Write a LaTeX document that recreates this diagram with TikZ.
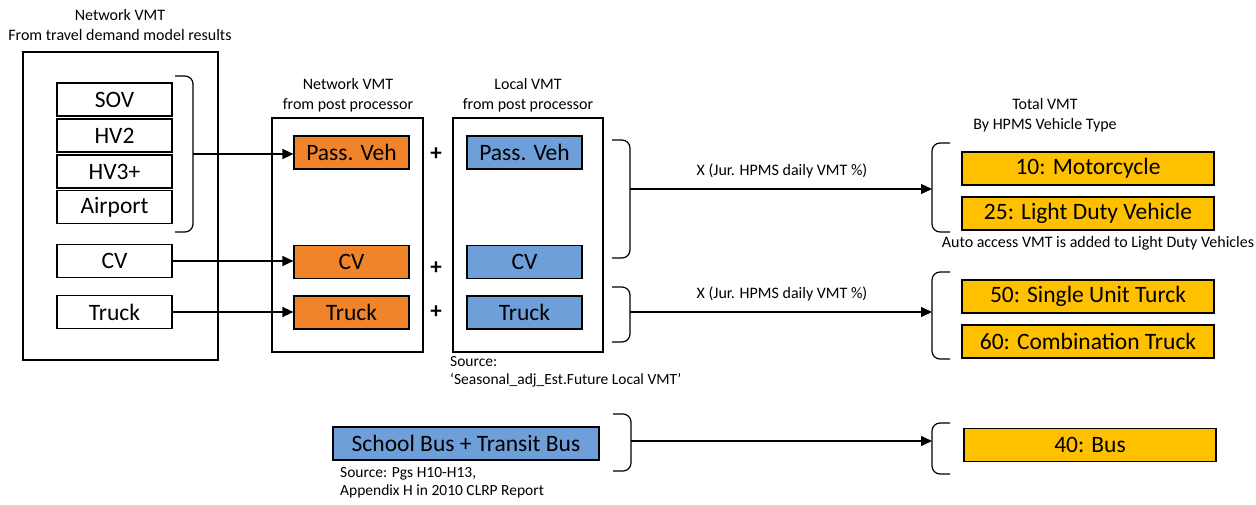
\documentclass[tikz,border=0pt]{standalone}
\usepackage{fontspec}
\setmainfont{Carlito}
\usetikzlibrary{arrows.meta}
\definecolor{orng}{HTML}{F0842A}
\definecolor{blu}{HTML}{6F9FD9}
\definecolor{gld}{HTML}{FFC000}
\begin{document}
\begin{tikzpicture}[x=1pt,y=-1pt,
  bigtxt/.style={font=\fontsize{23.5}{27}\selectfont},
  smalltxt/.style={font=\fontsize{16}{20}\selectfont, align=center, inner sep=0pt},
  srctxt/.style={font=\fontsize{15.5}{18.5}\selectfont, align=left, inner sep=0pt},
  frame/.style={draw=black, line width=1.2pt},
  whitebox/.style={draw=black, line width=1.2pt, fill=white, minimum width=115pt, minimum height=33pt, inner sep=0pt, bigtxt},
  orbox/.style={whitebox, fill=orng},
  blbox/.style={whitebox, fill=blu},
  gdbox/.style={whitebox, fill=gld, minimum width=252pt},
  brk/.style={draw=black, line width=1.2pt, rounded corners=8pt},
  conn/.style={draw=black, line width=1.2pt},
  arr/.style={conn, -{Triangle[length=11pt,width=10pt]}},
  plus/.style={font=\fontsize{23}{26}\selectfont\bfseries, inner sep=0pt}]
\useasboundingbox (0,0) rectangle (1256,504);

% big frames
\draw[frame] (23,52) rectangle (218,360);
\draw[frame] (272,118) rectangle (423,352);
\draw[frame] (453,118) rectangle (603,352);

% titles
\node[smalltxt] (t1) at (120,25) {Network VMT\\From travel demand model results};
\node[smalltxt] (t2) at (348,95) {Network VMT\\from post processor};
\node[smalltxt] (t3) at (528,95) {Local VMT\\from post processor};
\node[smalltxt] (t4) at (1045,115) {Total VMT\\By HPMS Vehicle Type};

% left boxes
\node[whitebox] (sov) at (114.5,99.5) {SOV};
\node[whitebox] (hv2) at (114.5,135.5) {HV2};
\node[whitebox] (hv3) at (114.5,171.5) {HV3+};
\node[whitebox] (air) at (114.5,207) {Airport};
\node[whitebox] (cv) at (114.5,261) {CV};
\node[whitebox] (trk) at (114.5,312) {Truck};

% orange boxes
\node[orbox] (opv) at (351.5,152.5) {Pass. Veh};
\node[orbox] (ocv) at (351.5,262) {CV};
\node[orbox] (otr) at (351.5,312.5) {Truck};

% blue boxes
\node[blbox] (bpv) at (524.5,152.5) {Pass. Veh};
\node[blbox] (bcv) at (524.5,262) {CV};
\node[blbox] (btr) at (524.5,312.5) {Truck};

% plus signs
\node[plus] (p1) at (436,154) {+};
\node[plus] (p2) at (436,268) {+};
\node[plus] (p3) at (436,312) {+};

% gold boxes
\node[gdbox] (g10) at (1088,168.5) {10: Motorcycle};
\node[gdbox] (g25) at (1088,213.5) {25: Light Duty Vehicle};
\node[gdbox] (g50) at (1088,296.5) {50: Single Unit Turck};
\node[gdbox] (g60) at (1088,341.5) {60: Combination Truck};
\node[gdbox] (g40) at (1090,445) {40: Bus};

% school bus
\node[blbox, minimum width=266pt] (sb) at (466,443.5) {School Bus + Transit Bus};

% notes
\node[srctxt, anchor=north west] (src1) at (450,356) {Source:\\‘Seasonal\_adj\_Est.Future Local VMT’};
\node[srctxt, anchor=north west] (src2) at (340,467) {Source: Pgs H10-H13,\\Appendix H in 2010 CLRP Report};
\node[smalltxt] (auto) at (1098,243) {Auto access VMT is added to Light Duty Vehicles};
\node[smalltxt] (lx1) at (782,171) {X (Jur. HPMS daily VMT \%)};
\node[smalltxt] (lx2) at (782,294) {X (Jur. HPMS daily VMT \%)};

% brackets
\draw[brk] (175,76) -- (193,76) -- (193,232) -- (175,232);
\coordinate (b0) at (193,154);
\draw[brk] (612,140) -- (630,140) -- (630,258) -- (612,258);
\coordinate (b1) at (630,189);
\draw[brk] (612,287) -- (630,287) -- (630,342) -- (612,342);
\coordinate (b2) at (630,312);
\draw[brk] (613,414) -- (631,414) -- (631,471) -- (613,471);
\coordinate (b3) at (631,441);

\draw[brk] (950,143) -- (932,143) -- (932,232) -- (950,232);
\coordinate (r1) at (932,189);
\draw[brk] (950,272) -- (932,272) -- (932,359) -- (950,359);
\coordinate (r2) at (932,312);
\draw[brk] (950,423) -- (932,423) -- (932,474) -- (950,474);
\coordinate (r3) at (932,441);

% connectors
\draw[arr] (b0) -- (b0 -| opv.west);
\draw[arr] (cv.east) -- (cv.east -| ocv.west);
\draw[arr] (trk.east) -- (trk.east -| otr.west);
\draw[arr] (b1) -- (r1);
\draw[arr] (b2) -- (r2);
\draw[arr] (b3) -- (r3);
\end{tikzpicture}
\end{document}
